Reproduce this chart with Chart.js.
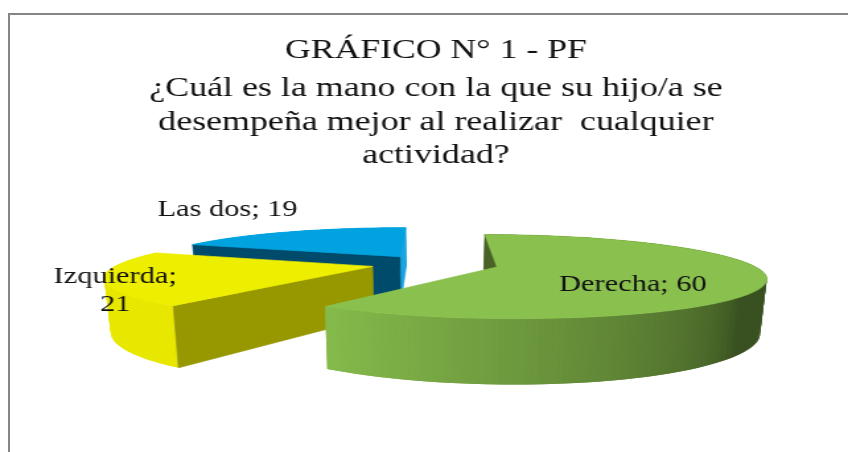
<!DOCTYPE html>
<html>
<head>
<meta charset="utf-8">
<title>Gráfico 1</title>
<script src="https://cdn.jsdelivr.net/npm/chart.js@4"></script>
<style>
  html, body { margin: 0; padding: 0; background: #fff; overflow: hidden; }
  #wrap { position: relative; width: 848px; height: 452px; overflow: hidden; }
  #frame { position: absolute; left: 8px; top: 13px; right: 0; bottom: 0; border-top: 2px solid #868686; border-left: 2px solid #868686; }
  /* the original picture is stretched sideways, text included */
  #pie { position: absolute; left: 0; top: 0; transform-origin: 0 0; transform: scaleX(1.3209); }
</style>
</head>
<body>
<div id="wrap">
  <div id="frame"></div>
  <canvas id="pie" width="642" height="452"></canvas>
</div>
<script>
const categories = ['Derecha', 'Izquierda', 'Las dos'];
const values = [60, 21, 19];
const sliceColors = ['#8AC14E', '#EEEE00', '#00A3E0'];
const cutColors = ['#4A6128', '#979700', '#004A6B'];
const endCutColors = [null, null, '#1AA3DF'];
const explode = [26.4, 24, 23.5];
const titleText = 'GRÁFICO N° 1 - PF';
const subtitleLines = [
  '¿Cuál es la mano con la que su hijo/a se',
  'desempeña mejor al realizar  cualquier',
  'actividad?'
];

const SERIF = '"Liberation Serif", serif';
const STRETCH = 1.3209;

// perspective of the tilted disc, fitted on the picture (picture pixels)
const view = { vx: 432, vy: 93, a: 1130, b: 760, d: 4.45, drop: 222, shrink: 0.98 };

function project(x, z, bottom) {
  const w = view.d - z;
  let sx = view.vx + view.a * x / w;
  let sy = view.vy + view.b / w;
  if (bottom) {
    sx = view.vx + (sx - view.vx) * view.shrink;
    sy += view.drop / w;
  }
  return [sx / STRETCH, sy];
}

function hexToRgb(hex) {
  const n = parseInt(hex.slice(1), 16);
  return [(n >> 16) & 255, (n >> 8) & 255, n & 255];
}

// rim gets darker toward the right side of the disc
function rimColor(hex, angle) {
  let deg = (angle * 180 / Math.PI + 90) % 360;
  if (deg < 0) deg += 360;
  const t = Math.min(1, Math.max(0, (deg - 130) / 86));
  const f = 0.42 + 0.55 * Math.pow(t, 0.7);
  const c = hexToRgb(hex).map(v => Math.round(v * f));
  return `rgb(${c[0]},${c[1]},${c[2]})`;
}

function fillPoly(ctx, pts, color, noStroke) {
  ctx.beginPath();
  pts.forEach((p, i) => (i ? ctx.lineTo(p[0], p[1]) : ctx.moveTo(p[0], p[1])));
  ctx.closePath();
  ctx.fillStyle = color;
  ctx.fill();
  if (!noStroke) {
    ctx.strokeStyle = color;
    ctx.lineWidth = 0.7;
    ctx.stroke();
  }
}

function sliceGeometry(el) {
  const mid = (el.startAngle + el.endAngle) / 2;
  const e = el.options.offset / el.outerRadius;
  return { ox: Math.cos(mid) * e, oz: Math.sin(mid) * e, start: el.startAngle, end: el.endAngle };
}

function drawSlice(ctx, el, i) {
  const g = sliceGeometry(el);
  const steps = Math.ceil((g.end - g.start) / 0.02);
  const rim = [];
  for (let s = 0; s <= steps; s++) {
    const a = g.start + (g.end - g.start) * s / steps;
    rim.push({ a, x: g.ox + Math.cos(a), z: g.oz + Math.sin(a) });
  }
  const first = rim[0];
  const last = rim[rim.length - 1];

  // each strip runs over the next one so no seams show
  for (let s = 0; s < steps; s++) {
    const p = rim[s];
    const q = rim[Math.min(s + 2, steps)];
    fillPoly(ctx, [project(p.x, p.z), project(q.x, q.z), project(q.x, q.z, true), project(p.x, p.z, true)], rimColor(sliceColors[i], p.a), true);
  }

  if (endCutColors[i]) {
    fillPoly(ctx, [project(g.ox, g.oz), project(last.x, last.z), project(last.x, last.z, true), project(g.ox, g.oz, true)], endCutColors[i]);
  }
  fillPoly(ctx, [project(g.ox, g.oz), project(first.x, first.z), project(first.x, first.z, true), project(g.ox, g.oz, true)], cutColors[i]);

  fillPoly(ctx, [project(g.ox, g.oz)].concat(rim.map(p => project(p.x, p.z))), sliceColors[i]);
}

// where each label sits: fraction of the radius along the slice middle, then a nudge
const labelPlace = [
  { r: 0.5, dx: 6, dy: 12, lines: v => [v] },
  { r: 1.0, dx: 11, dy: -1, lines: v => v.split(' ') },
  { r: 1.0, dx: -61, dy: -22, lines: v => [v] }
];

const tiltedPie = {
  id: 'tiltedPie',
  beforeDatasetsDraw(chart) {
    const ctx = chart.ctx;
    const meta = chart.getDatasetMeta(0);
    ctx.save();
    // back to front
    [2, 1, 0].forEach(i => drawSlice(ctx, meta.data[i], i));
    ctx.fillStyle = '#111';
    ctx.font = '23px ' + SERIF;
    ctx.textAlign = 'center';
    ctx.textBaseline = 'middle';
    meta.data.forEach((el, i) => {
      const g = sliceGeometry(el);
      const mid = (g.start + g.end) / 2;
      const place = labelPlace[i];
      const p = project(g.ox + Math.cos(mid) * place.r, g.oz + Math.sin(mid) * place.r);
      const lines = place.lines(`${categories[i]}; ${values[i]}`);
      lines.forEach((t, n) => ctx.fillText(t, p[0] + place.dx / STRETCH, p[1] + place.dy + n * 28));
    });
    ctx.restore();
    return false;
  }
};

new Chart(document.getElementById('pie').getContext('2d'), {
  type: 'pie',
  data: {
    labels: categories,
    datasets: [{
      data: values,
      backgroundColor: sliceColors,
      offset: explode,
      borderWidth: 0,
      radius: 100
    }]
  },
  options: {
    responsive: false,
    animation: false,
    layout: { padding: { left: 18, top: 20 } },
    plugins: {
      legend: { display: false },
      tooltip: { enabled: false },
      title: {
        display: true,
        text: titleText,
        color: '#111',
        font: { family: SERIF, size: 27, weight: 'normal' },
        padding: { top: 15, bottom: 5 }
      },
      subtitle: {
        display: true,
        text: subtitleLines,
        color: '#111',
        font: { family: SERIF, size: 27.2, weight: 'normal', lineHeight: 1.23 },
        padding: { top: 0, bottom: 0 }
      }
    }
  },
  plugins: [tiltedPie]
});
</script>
</body>
</html>
